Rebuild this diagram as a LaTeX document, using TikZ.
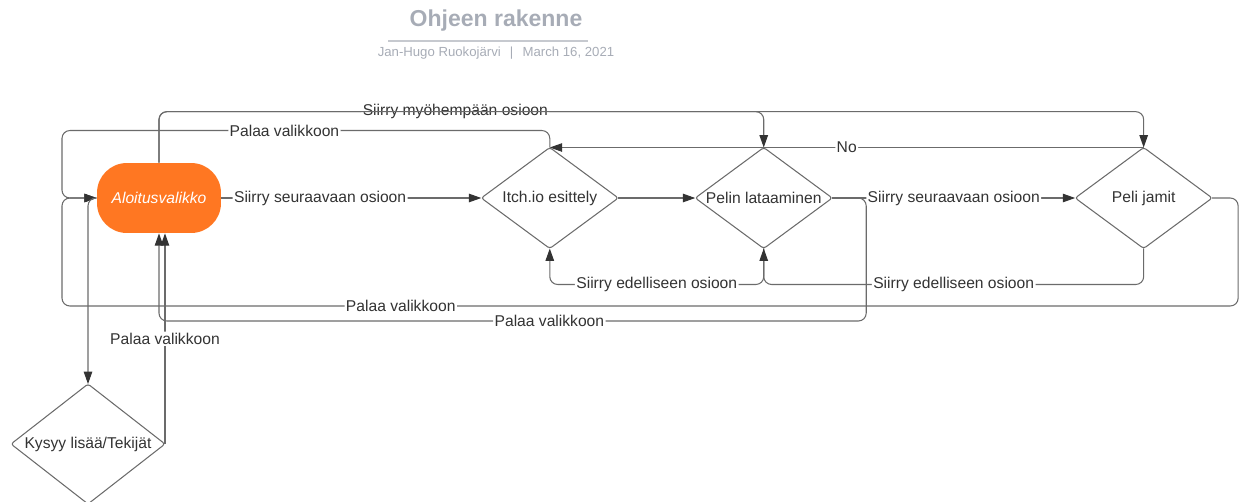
\documentclass[tikz,border=0pt]{standalone}
\usepackage{fontspec}
\setmainfont{Liberation Sans}
\usetikzlibrary{arrows.meta}
\usetikzlibrary{shapes}
\usetikzlibrary{positioning}

\definecolor{lineg}{HTML}{6B6B6B}
\definecolor{textg}{HTML}{333333}
\definecolor{menuor}{HTML}{FF7722}
\definecolor{titleg}{HTML}{A7ACB6}
\definecolor{ruleg}{HTML}{C6C9CF}

\tikzset{
    box/.style={draw=lineg, line width=0.6pt, diamond, minimum width=2.74cm, minimum height=2.02cm, inner sep=0pt, outer sep=0pt, rounded corners=1.5pt, text=textg, font=\fontsize{8.9}{10}\selectfont},
    conn/.style={draw=lineg, line width=0.6pt, rounded corners=4.5pt, -{Triangle[length=7pt, width=4.8pt, color=textg]}},
    lbl/.style={fill=white, inner sep=0.8pt, text=textg, font=\fontsize{8.9}{10}\selectfont}
}

\begin{document}
\begin{tikzpicture}[x=0.02cm, y=-0.02cm]
    \useasboundingbox (0,0) rectangle (1240,501);

    \node [text=titleg, font=\fontsize{13.1}{15}\selectfont\bfseries] (title) at (496,21) {Ohjeen rakenne};
    \node [text=titleg, font=\fontsize{7.5}{9}\selectfont] (sub) at (496,53) {Jan-Hugo Ruokojärvi\hspace{0.7em}|\hspace{0.7em}March 16, 2021};
    \draw [ruleg, line width=0.8pt] (388,41) -- (588,41);

    \node [fill=menuor, rounded corners=17pt, minimum width=2.48cm, minimum height=1.4cm, text=white, font=\fontsize{8.9}{10}\selectfont\itshape] (aloitus) at (159,198) {Aloitusvalikko};
    \node [box, right=5.2cm of aloitus] (itch) {\makebox[0pt]{Itch.io esittely}};
    \node [box, right=1.54cm of itch] (pelin) {\makebox[0pt]{Pelin lataaminen}};
    \node [box, right=4.86cm of pelin] (jamit) {\makebox[0pt]{Peli jamit}};
    \node [box, minimum width=3.08cm, minimum height=2.4cm] (kysyy) at (88,444) {\makebox[0pt]{Kysyy lisää/Tekijät}};
    \coordinate (lrail) at (62,198);

    % forward
    \draw [conn] (aloitus.east) -- node [lbl, pos=0.38] {Siirry seuraavaan osioon} (itch.west);
    \draw [conn] (itch.east) -- (pelin.west);
    \draw [conn] (pelin.east) -- node [lbl] {Siirry seuraavaan osioon} (jamit.west);
    \draw [conn] (aloitus.north) -- ++(0,-51) -| node [lbl, pos=0.245] {Siirry myöhempään osioon} (pelin.north);
    \draw [conn] (aloitus.north) -- ++(0,-51) -| (jamit.north);

    % back
    \draw [conn] (jamit.north) -- node [lbl] {No} (itch.north);
    \draw [conn] (pelin.south) -- ++(0,36) -| node [lbl, pos=0.25] {Siirry edelliseen osioon} (itch.south);
    \draw [conn] (jamit.south) -- ++(0,36) -| node [lbl, pos=0.25] {Siirry edelliseen osioon} (pelin.south);

    % back to menu
    \draw [conn] (itch.north) -- ++(0,-17) -| node [lbl, pos=0.272] {Palaa valikkoon} (lrail) -- (aloitus.west);
    \draw [conn] (jamit.east) -- ++(26,0) -- ++(0,108) -| node [lbl, pos=0.356] {Palaa valikkoon} (lrail) -- (aloitus.west);
    \draw [conn] (pelin.east) -- ++(34,0) -- ++(0,123) -| node [lbl, pos=0.224] {Palaa valikkoon} (aloitus.south);
    \draw [conn] (kysyy.east) -- node [lbl] {Palaa valikkoon} (kysyy.east |- aloitus.south);
    \draw [conn] (aloitus.west) -| (kysyy.north);
\end{tikzpicture}
\end{document}
